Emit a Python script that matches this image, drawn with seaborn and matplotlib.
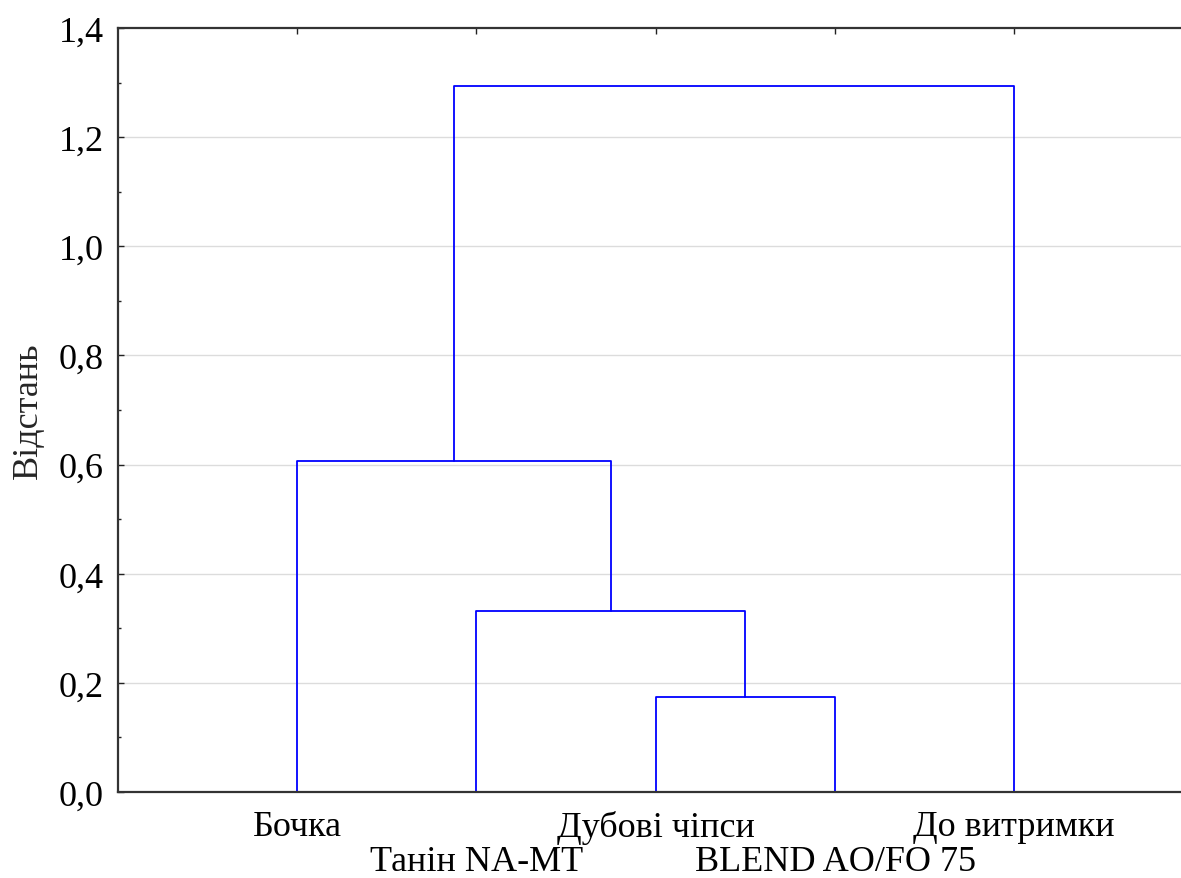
import matplotlib
matplotlib.use("Agg")
import matplotlib.pyplot as plt
import seaborn as sns
import pandas as pd

# листки дендрограми (порядок зліва направо)
leaves = ["Бочка", "Танін NA-MT", "Дубові чіпси", "BLEND AO/FO 75", "До витримки"]
# об'єднання: (лівий вузол, правий вузол, відстань); вузли 0..4 - листки, 5.. - кластери
merges = [(2, 3, 0.174), (1, 5, 0.332), (0, 6, 0.607), (7, 4, 1.294)]
yticks = [0.0, 0.2, 0.4, 0.6, 0.8, 1.0, 1.2, 1.4]

sns.set_style("white")
plt.rcParams["font.family"] = ["Liberation Serif", "DejaVu Serif"]

fig = plt.figure(figsize=(11.81, 8.79), dpi=100)
ax = fig.add_axes([0.0999, 0.0978, 0.9107, 0.8692])

# координати вузлів
pos = {i: (i + 1, 0.0) for i in range(len(leaves))}
for k, (a, b, h) in enumerate(merges):
    xa, ya = pos[a]
    xb, yb = pos[b]
    seg = pd.DataFrame({"x": [xa, xa, xb, xb], "y": [ya, h, h, yb]})
    sns.lineplot(data=seg, x="x", y="y", sort=False, estimator=None,
                 color="#0000ff", linewidth=1.3, ax=ax)
    pos[len(leaves) + k] = ((xa + xb) / 2, h)

ax.set_xlim(0, len(leaves) + 1)
ax.set_ylim(0, 1.4)
ax.set_yticks(yticks)
ax.set_yticklabels([f"{v:.1f}".replace(".", ",") for v in yticks], fontsize=26)
ax.set_yticks([0.1, 0.3, 0.5, 0.7, 0.9, 1.1, 1.3], minor=True)

# підписи листків у два ряди: непарні - перший ряд, парні - другий
ax.set_xticks([1, 3, 5])
ax.set_xticklabels(leaves[0::2], fontsize=26)
ax.set_xticks([2, 4], minor=True)
ax.set_xticklabels(leaves[1::2], minor=True, fontsize=26)
ax.tick_params(axis="x", which="major", bottom=False, top=True, direction="in",
               length=4, width=1, colors="#222222", labelcolor="black", pad=13)
ax.tick_params(axis="x", which="minor", bottom=False, top=True, direction="in",
               length=4, width=1, colors="#222222", labelcolor="black", pad=38)
ax.tick_params(axis="y", which="major", left=True, direction="in", length=4,
               width=1, colors="#222222", labelcolor="black", pad=10)
ax.tick_params(axis="y", which="minor", left=True, direction="in", length=2.5,
               width=1, colors="#222222")

for y in yticks[1:-1]:
    ax.axhline(y, color="#dcdcdc", linewidth=1, zorder=0)

for side in ["left", "bottom", "top"]:
    ax.spines[side].set_visible(True)
    ax.spines[side].set_color("#333333")
    ax.spines[side].set_linewidth(1.6)
ax.spines["right"].set_visible(False)

ax.set_xlabel("")
ax.set_ylabel("Відстань", fontsize=26, labelpad=10)

fig.savefig("out.png", dpi=100)
